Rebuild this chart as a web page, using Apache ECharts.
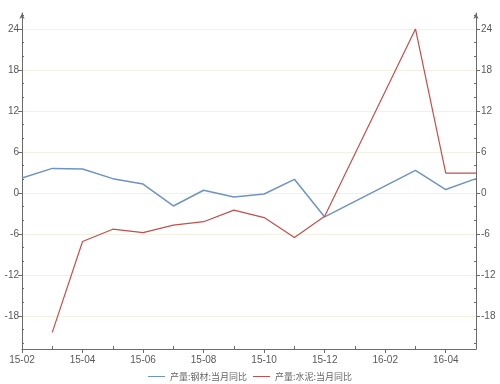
<!DOCTYPE html>
<html><head><meta charset="utf-8">
<script src="https://cdn.jsdelivr.net/npm/echarts@6/dist/echarts.min.js"></script>
<style>html,body{margin:0;padding:0;background:#fff}#c{width:500px;height:384px}</style>
</head><body><div id="c"></div>
<script>
const months = ['15-02','15-03','15-04','15-05','15-06','15-07','15-08','15-09','15-10','15-11','15-12','16-01','16-02','16-03','16-04','16-05'];
const steel = [2.2, 3.6, 3.5, 2.1, 1.3, -1.9, 0.4, -0.6, -0.15, 2.0, -3.5, null, null, 3.3, 0.5, 2.1];
const cement = [null, -20.4, -7.1, -5.3, -5.8, -4.7, -4.2, -2.5, -3.6, -6.5, -3.4, null, null, 24.0, 2.9, 2.9];
const yLabels = [-18, -12, -6, 0, 6, 12, 18, 24];
const yMinor = [-22, -20, -16, -14, -10, -8, -4, -2, 2, 4, 8, 10, 14, 16, 20, 22, 26];
const seriesNames = ['产量:钢材:当月同比', '产量:水泥:当月同比'];
const yMin = -22.83, yMax = 26.34;

const axisColor = '#6b6b6b';
const labelStyle = {color: '#595959', fontSize: 10, fontFamily: 'Liberation Sans'};

function yAx(pos, margin, opts) {
  return Object.assign({
    type: 'value', position: pos, min: yMin, max: yMax,
    axisLine: {show: true, onZero: false, lineStyle: {color: axisColor, width: 1}, symbol: ['none', 'arrow'], symbolSize: [4, 6]},
    axisTick: {show: true, customValues: yLabels, length: 4, lineStyle: {color: axisColor}},
    axisLabel: Object.assign({show: true, customValues: yLabels, margin: margin}, labelStyle),
    splitLine: {show: false}
  }, opts || {});
}
function yMinorAx(pos) {
  return {
    type: 'value', position: pos, min: yMin, max: yMax,
    axisLine: {show: false, onZero: false},
    axisTick: {show: true, inside: true, customValues: yMinor, length: 2, lineStyle: {color: axisColor}},
    axisLabel: {show: false, customValues: yMinor},
    splitLine: {show: false}
  };
}

const chart = echarts.init(document.getElementById('c'), null, {renderer: 'canvas'});
chart.setOption({
  animation: false,
  backgroundColor: '#fff',
  grid: {left: 22, right: 24, top: 13, bottom: 35, containLabel: false},
  legend: {
    bottom: -2, left: 'center',
    data: seriesNames,
    icon: 'rect', itemWidth: 17, itemHeight: 1, itemGap: 6,
    textStyle: {color: '#666', fontSize: 9, fontFamily: 'Noto Sans CJK SC'}
  },
  xAxis: [{
    type: 'category', data: months, boundaryGap: false,
    axisLine: {show: true, onZero: false, lineStyle: {color: axisColor}},
    axisTick: {show: true, interval: 1, length: 4, lineStyle: {color: axisColor}},
    axisLabel: Object.assign({interval: 1, margin: 6}, labelStyle),
    splitLine: {show: false}
  }, {
    type: 'category', data: months, boundaryGap: false, position: 'bottom',
    axisLine: {show: false, onZero: false},
    axisTick: {show: true, inside: true, length: 3, interval: function (i) { return i % 2 === 1; }, lineStyle: {color: axisColor}},
    axisLabel: {show: false},
    splitLine: {show: false}
  }],
  yAxis: [
    yAx('left', 3, {splitLine: {show: true, lineStyle: {color: '#f4f1e2', width: 1}}}),
    yAx('right', 5),
    yMinorAx('left'),
    yMinorAx('right')
  ],
  series: [{
    name: seriesNames[0], type: 'line', data: steel, connectNulls: true,
    symbol: 'none', lineStyle: {color: '#6f94c0', width: 1.5}, itemStyle: {color: '#6f94c0'}
  }, {
    name: seriesNames[1], type: 'line', data: cement, connectNulls: true,
    symbol: 'none', lineStyle: {color: '#c0504d', width: 1.2}, itemStyle: {color: '#c0504d'}
  }]
});
</script></body></html>
